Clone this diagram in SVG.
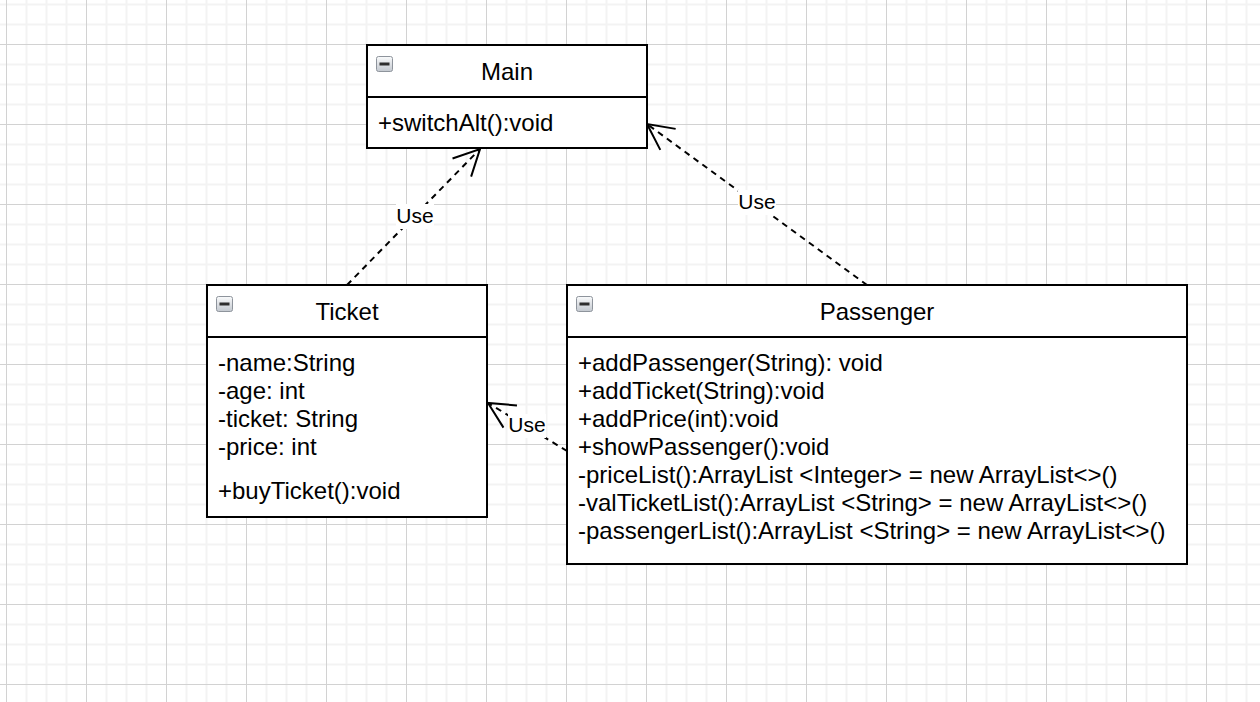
<svg xmlns="http://www.w3.org/2000/svg" width="1260" height="702" viewBox="0 0 1260 702">
  <style>
    .box { fill: #ffffff; stroke: #000000; stroke-width: 2; }
    .sep { stroke: #000000; stroke-width: 2; }
    .title { font-family: "Liberation Sans", Helvetica, Arial, sans-serif; font-size: 24px; fill: #000000; text-anchor: middle; }
    .member { font-family: "Liberation Sans", Helvetica, Arial, sans-serif; font-size: 24px; fill: #000000; }
    .label { font-family: "Liberation Sans", Helvetica, Arial, sans-serif; font-size: 21px; fill: #000000; text-anchor: middle; }
    .labelbg { fill: #ffffff; }
    .dep { fill: none; stroke: #000000; stroke-width: 2; stroke-dasharray: 6 5; marker-end: url(#openArrow); }
  </style>
  <defs>
    <!-- background grid: light minor lines every 20px, darker major lines every 80px -->
    <pattern id="grid" patternUnits="userSpaceOnUse" x="6" y="44" width="80" height="80">
      <rect x="0" y="0" width="80" height="80" fill="#ffffff"/>
      <g fill="#f3f3f3">
        <rect x="19.5" y="0" width="2" height="80"/>
        <rect x="39.5" y="0" width="2" height="80"/>
        <rect x="59.5" y="0" width="2" height="80"/>
        <rect x="0" y="19.5" width="80" height="2"/>
        <rect x="0" y="39.5" width="80" height="2"/>
        <rect x="0" y="59.5" width="80" height="2"/>
      </g>
      <g fill="#d2d2d2">
        <rect x="0" y="0" width="1" height="80"/>
        <rect x="0" y="0" width="80" height="1"/>
      </g>
    </pattern>
    <linearGradient id="iconFill" x1="0" y1="0" x2="0" y2="1">
      <stop offset="0" stop-color="#fafbfc"/>
      <stop offset="1" stop-color="#c3c8cf"/>
    </linearGradient>
    <!-- collapse toggle shown in class headers -->
    <g id="collapseIcon">
      <rect x="0.5" y="0.5" width="16" height="15" rx="2" fill="url(#iconFill)" stroke="#8e949c" stroke-width="1"/>
      <rect x="3.5" y="6.5" width="10" height="3" fill="#2e2e2e"/>
    </g>
    <marker id="openArrow" markerUnits="userSpaceOnUse" viewBox="-30 -16 34 32" markerWidth="34" markerHeight="32" refX="0" refY="0" orient="auto" overflow="visible">
      <path d="M -26 -13 L 0 0 L -26 13" fill="none" stroke="#000000" stroke-width="2" stroke-linejoin="miter"/>
    </marker>
  </defs>

  <rect x="0" y="0" width="1260" height="702" fill="url(#grid)"/>

  <!-- dependency connectors -->
  <g id="connectors">
    <g id="ticket-uses-main">
      <path class="dep" d="M 347 285 L 480 149"/>
      <rect class="labelbg" x="396" y="204" width="38" height="25"/>
      <text class="label" x="415" y="223">Use</text>
    </g>
    <g id="passenger-uses-main">
      <path class="dep" d="M 867 285 L 647 124"/>
      <rect class="labelbg" x="738" y="190" width="38" height="25"/>
      <text class="label" x="757" y="209">Use</text>
    </g>
    <g id="passenger-uses-ticket">
      <path class="dep" d="M 567 451 L 488 403"/>
      <rect class="labelbg" x="508" y="414" width="38" height="24"/>
      <text class="label" x="527" y="432">Use</text>
    </g>
  </g>

  <!-- class Main -->
  <g id="main">
    <rect class="box" x="367" y="45" width="280" height="103"/>
    <line class="sep" x1="367" y1="97" x2="647" y2="97"/>
    <use href="#collapseIcon" x="376" y="56"/>
    <text class="title" x="507" y="80">Main</text>
    <text class="member" x="378" y="131">+switchAlt():void</text>
  </g>

  <!-- class Ticket -->
  <g id="ticket">
    <rect class="box" x="207" y="285" width="280" height="232"/>
    <line class="sep" x1="207" y1="337" x2="487" y2="337"/>
    <use href="#collapseIcon" x="216" y="296"/>
    <text class="title" x="347" y="320">Ticket</text>
    <text class="member" x="218" y="371">-name:String</text>
    <text class="member" x="218" y="399">-age: int</text>
    <text class="member" x="218" y="427">-ticket: String</text>
    <text class="member" x="218" y="455">-price: int</text>
    <text class="member" x="218" y="499">+buyTicket():void</text>
  </g>

  <!-- class Passenger -->
  <g id="passenger">
    <rect class="box" x="567" y="285" width="620" height="279"/>
    <line class="sep" x1="567" y1="337" x2="1187" y2="337"/>
    <use href="#collapseIcon" x="576" y="296"/>
    <text class="title" x="877" y="320">Passenger</text>
    <text class="member" x="578" y="371">+addPassenger(String): void</text>
    <text class="member" x="578" y="399">+addTicket(String):void</text>
    <text class="member" x="578" y="427">+addPrice(int):void</text>
    <text class="member" x="578" y="455">+showPassenger():void</text>
    <text class="member" x="578" y="483">-priceList():ArrayList &lt;Integer&gt; = new ArrayList&lt;&gt;()</text>
    <text class="member" x="578" y="511">-valTicketList():ArrayList &lt;String&gt; = new ArrayList&lt;&gt;()</text>
    <text class="member" x="578" y="539">-passengerList():ArrayList &lt;String&gt; = new ArrayList&lt;&gt;()</text>
  </g>
</svg>
